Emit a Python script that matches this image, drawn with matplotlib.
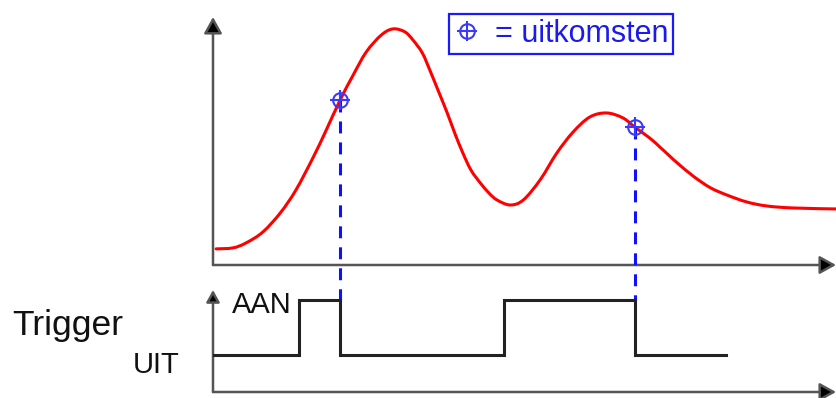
import matplotlib
matplotlib.use("Agg")
import matplotlib.pyplot as plt
from matplotlib.patches import FancyArrowPatch, PathPatch
from matplotlib.path import Path
from matplotlib.legend_handler import HandlerTuple

plt.rcParams["font.family"] = ["Liberation Sans", "DejaVu Sans"]
plt.rcParams["lines.scale_dashes"] = False

# Analog signal: time (arbitrary units) and level (fraction of full scale)
signal_t = [0.05, 0.32, 0.53, 0.80, 1.08, 1.33, 1.61, 1.81, 2.04, 2.25,
            2.46, 2.70, 2.89, 3.08, 3.21, 3.36, 3.48, 3.61, 3.76, 3.88,
            4.01, 4.14, 4.29, 4.43, 4.56, 4.77, 4.98, 5.25, 5.52, 5.78,
            6.05, 6.32, 6.58, 6.77, 7.01, 7.18, 7.34, 7.45, 7.71, 7.98,
            8.25, 8.57, 8.89, 9.31, 10.0]
signal_v = [0.065, 0.069, 0.089, 0.133, 0.210, 0.302, 0.435, 0.540, 0.665, 0.766,
            0.859, 0.927, 0.952, 0.940, 0.907, 0.855, 0.786, 0.706, 0.613, 0.532,
            0.452, 0.383, 0.331, 0.290, 0.262, 0.242, 0.262, 0.343, 0.452, 0.536,
            0.597, 0.613, 0.593, 0.556, 0.512, 0.474, 0.437, 0.412, 0.358, 0.312,
            0.282, 0.254, 0.238, 0.230, 0.226]

# Samples taken on the falling edge of the trigger
sample_t = [2.04, 6.77]
sample_v = [0.665, 0.556]

# Trigger signal: edge times and state after each edge (0 = UIT, 1 = AAN)
trigger_t = [0.0, 1.38, 2.04, 4.67, 6.77, 8.23]
trigger_state = [0, 1, 0, 1, 0, 0]

W, H = 836, 398
fig = plt.figure(figsize=(W / 100, H / 100), dpi=100)

ax_top = fig.add_axes([213 / W, 1 - 265 / H, 623 / W, 248 / H])
ax_bot = fig.add_axes([213 / W, 1 - 392 / H, 623 / W, 102 / H])
for ax in (ax_top, ax_bot):
    ax.set_xlim(0, 10)
    ax.axis("off")
ax_top.set_ylim(0, 1)
ax_bot.set_ylim(-0.673, 1.18)

AXIS_GREY = "#555555"


def axis_arrow(ax, start, end, scale):
    arr = FancyArrowPatch(start, end, transform=ax.transAxes,
                          arrowstyle="-|>,head_length=0.9,head_width=0.5",
                          mutation_scale=scale, lw=1.8, ec=AXIS_GREY, fc="black",
                          shrinkA=0, shrinkB=0, clip_on=False, zorder=1)
    ax.add_patch(arr)


axis_arrow(ax_top, (0, 0), (0, 1), 11)
axis_arrow(ax_top, (0, 0), (1, 0), 11)
axis_arrow(ax_bot, (0, 0), (0, 1), 8)
axis_arrow(ax_bot, (0, 0), (1, 0), 11)


def smooth_path(xs, ys):
    """Catmull-Rom curve through the points, expressed as cubic Bezier segments."""
    pts = list(zip(xs, ys))
    ext = [pts[0]] + pts + [pts[-1]]
    verts = [pts[0]]
    codes = [Path.MOVETO]
    for i in range(1, len(ext) - 2):
        p0, p1, p2, p3 = ext[i - 1], ext[i], ext[i + 1], ext[i + 2]
        c1 = (p1[0] + (p2[0] - p0[0]) / 6, p1[1] + (p2[1] - p0[1]) / 6)
        c2 = (p2[0] - (p3[0] - p1[0]) / 6, p2[1] - (p3[1] - p1[1]) / 6)
        verts += [c1, c2, p2]
        codes += [Path.CURVE4] * 3
    return Path(verts, codes)


# Analog signal
ax_top.add_patch(PathPatch(smooth_path(signal_t, signal_v), fill=False,
                           ec="#ff0000", lw=2.2, capstyle="round",
                           joinstyle="round", zorder=2))

# Dashed guides from each sample down to the trigger edge
for t, v in zip(sample_t, sample_v):
    y_end = ax_top.transData.inverted().transform(
        ax_bot.transData.transform((t, 1.0)))[1]
    ax_top.plot([t, t], [v, y_end], color="#1010ff", lw=2.2,
                dashes=(8.6, 6.5), clip_on=False, zorder=3)

marker_col = "#3a3aff"
circ, = ax_top.plot(sample_t, sample_v, ls="none", marker="o", ms=10.5,
                    mfc="none", mec=marker_col, mew=1.5, zorder=5)
plus, = ax_top.plot(sample_t, sample_v, ls="none", marker="+", ms=15,
                    mec=marker_col, mew=1.5, zorder=5)

leg = ax_top.legend([(circ, plus)], ["= uitkomsten"],
                    handler_map={tuple: HandlerTuple(ndivide=1, pad=0)},
                    loc="center", bbox_to_anchor=(561 / W, 1 - 34 / H),
                    bbox_transform=fig.transFigure, frameon=True,
                    fancybox=False, edgecolor="#1a1aff", framealpha=1,
                    fontsize=22, labelcolor="#1a1aee", handlelength=0.9,
                    handletextpad=0.45, borderpad=0.15, borderaxespad=0)
leg.get_frame().set_linewidth(1.6)

# Trigger signal
ax_bot.plot(trigger_t, trigger_state, drawstyle="steps-post", color="#222222",
            lw=2.2, solid_joinstyle="miter", zorder=4)

fig.text(12 / W, 1 - 335 / H, "Trigger", fontsize=25.5, color="#111111",
         va="baseline", ha="left")
fig.text(133 / W, 1 - 373 / H, "UIT", fontsize=21, color="#111111",
         va="baseline", ha="left")
fig.text(232 / W, 1 - 313 / H, "AAN", fontsize=21, color="#111111",
         va="baseline", ha="left")

fig.savefig("out.png", dpi=100)
